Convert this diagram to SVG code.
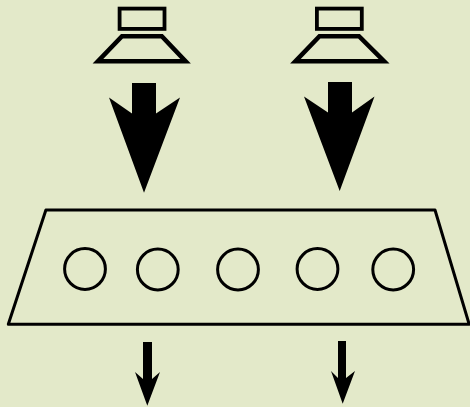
<svg xmlns="http://www.w3.org/2000/svg" width="470" height="407" viewBox="0 0 470 407">
<style>
.o{fill:none;stroke:#000;stroke-linejoin:miter}
.b{stroke-width:3.8}
.t{stroke-width:4.6;stroke-miterlimit:4}
.p{stroke-width:3;stroke-linejoin:round}
.c{stroke-width:3}
.a{fill:#000}
</style>
<rect width="470" height="407" fill="#e3e9c9"/>
<g id="speaker-left">
<rect class="o b" x="119.6" y="8.6" width="44.9" height="20.3"/>
<polygon class="o t" points="122,36.2 161.8,36.2 185.5,61.2 98,61.2"/>
</g>
<g id="speaker-right">
<rect class="o b" x="316.9" y="8.6" width="44.9" height="20.3"/>
<polygon class="o t" points="319.5,36.2 359,36.2 384,61.2 295.5,61.2"/>
</g>
<g id="panel">
<polygon class="o p" points="45.9,210 435,210 469.2,324.3 8.3,324.3"/>
<circle class="o c" cx="85" cy="269" r="20.4"/>
<circle class="o c" cx="157.8" cy="269.5" r="20.4"/>
<circle class="o c" cx="238" cy="269.5" r="20.4"/>
<circle class="o c" cx="317.5" cy="269" r="20.4"/>
<circle class="o c" cx="393.2" cy="269.5" r="20.4"/>
</g>
<g id="connectors">
<polygon class="a" points="132,83 156,83 156,113.5 180,97.5 144,192.8 109,97.5 132,113.5"/>
<polygon class="a" points="328,82 352,82 352,112.5 374.5,96.5 339.7,191 304,96.5 328,112.5"/>
<polygon class="a" points="143,342 152,342 152,379 160,372 147.3,405.8 135,372 143,379"/>
<polygon class="a" points="338,341 346,341 346,378 355,371 342.7,403.8 331,371 338,378"/>
</g>
</svg>
